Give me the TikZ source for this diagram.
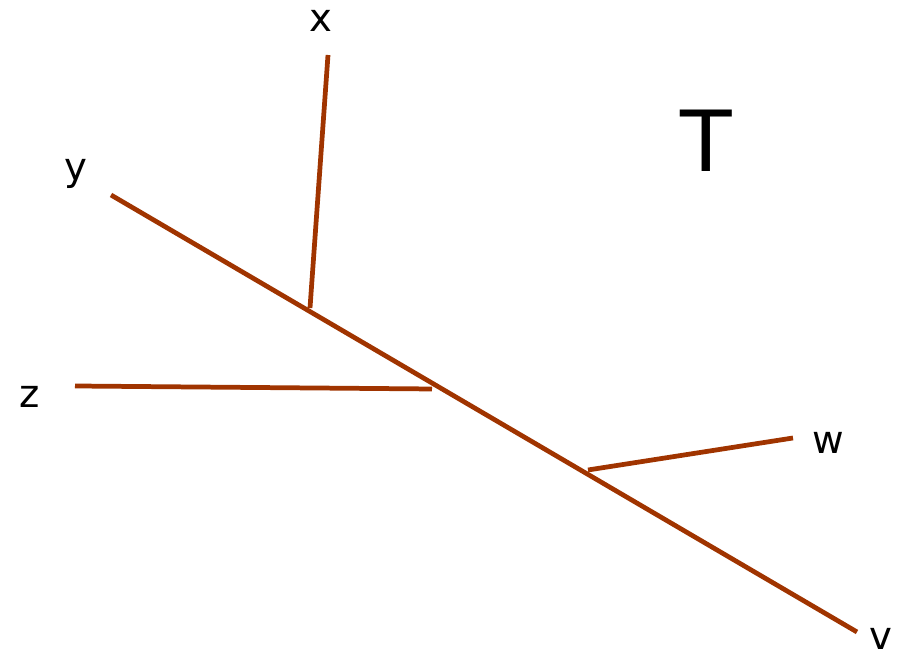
\documentclass[tikz,border=0pt]{standalone}
\usepackage{fontspec}
\setmainfont{DejaVu Sans}
\usetikzlibrary{positioning}
\definecolor{branchbrown}{RGB}{160,52,0}

\begin{document}
\begin{tikzpicture}[
  edge/.style={draw=branchbrown, line width=2.7pt},
  leaf/.style={font=\fontsize{22}{25}\selectfont, inner sep=0pt},
  title/.style={font=\fontsize{48}{53}\selectfont, inner sep=0pt}
]
  \useasboundingbox (0,0) rectangle (18,13.06);

  % ends of the branches
  \coordinate (ytip) at (2.22,9.16);
  \coordinate (vtip) at (17.14,0.42);
  \coordinate (xtip) at (6.56,11.96);
  \coordinate (xfoot) at (6.20,6.90);
  \coordinate (ztip) at (1.50,5.34);
  \coordinate (zfoot) at (8.64,5.28);
  \coordinate (wtip) at (15.86,4.30);
  \coordinate (wfoot) at (11.76,3.66);

  % leaf labels
  \node[leaf] (x) at (6.42,12.64) {x};
  \node[leaf] (y) at (1.52,9.58) {y};
  \node[leaf] (z) at (0.60,5.12) {z};
  \node[leaf] (w) at (16.56,4.20) {w};
  \node[leaf] (v) at (17.62,0.28) {v};
  \node[title] (T) at (14.12,10.24) {T};

  \draw[edge] (ytip) -- (vtip);
  \draw[edge] (xtip) -- (xfoot);
  \draw[edge] (ztip) -- (zfoot);
  \draw[edge] (wfoot) -- (wtip);
\end{tikzpicture}
\end{document}
